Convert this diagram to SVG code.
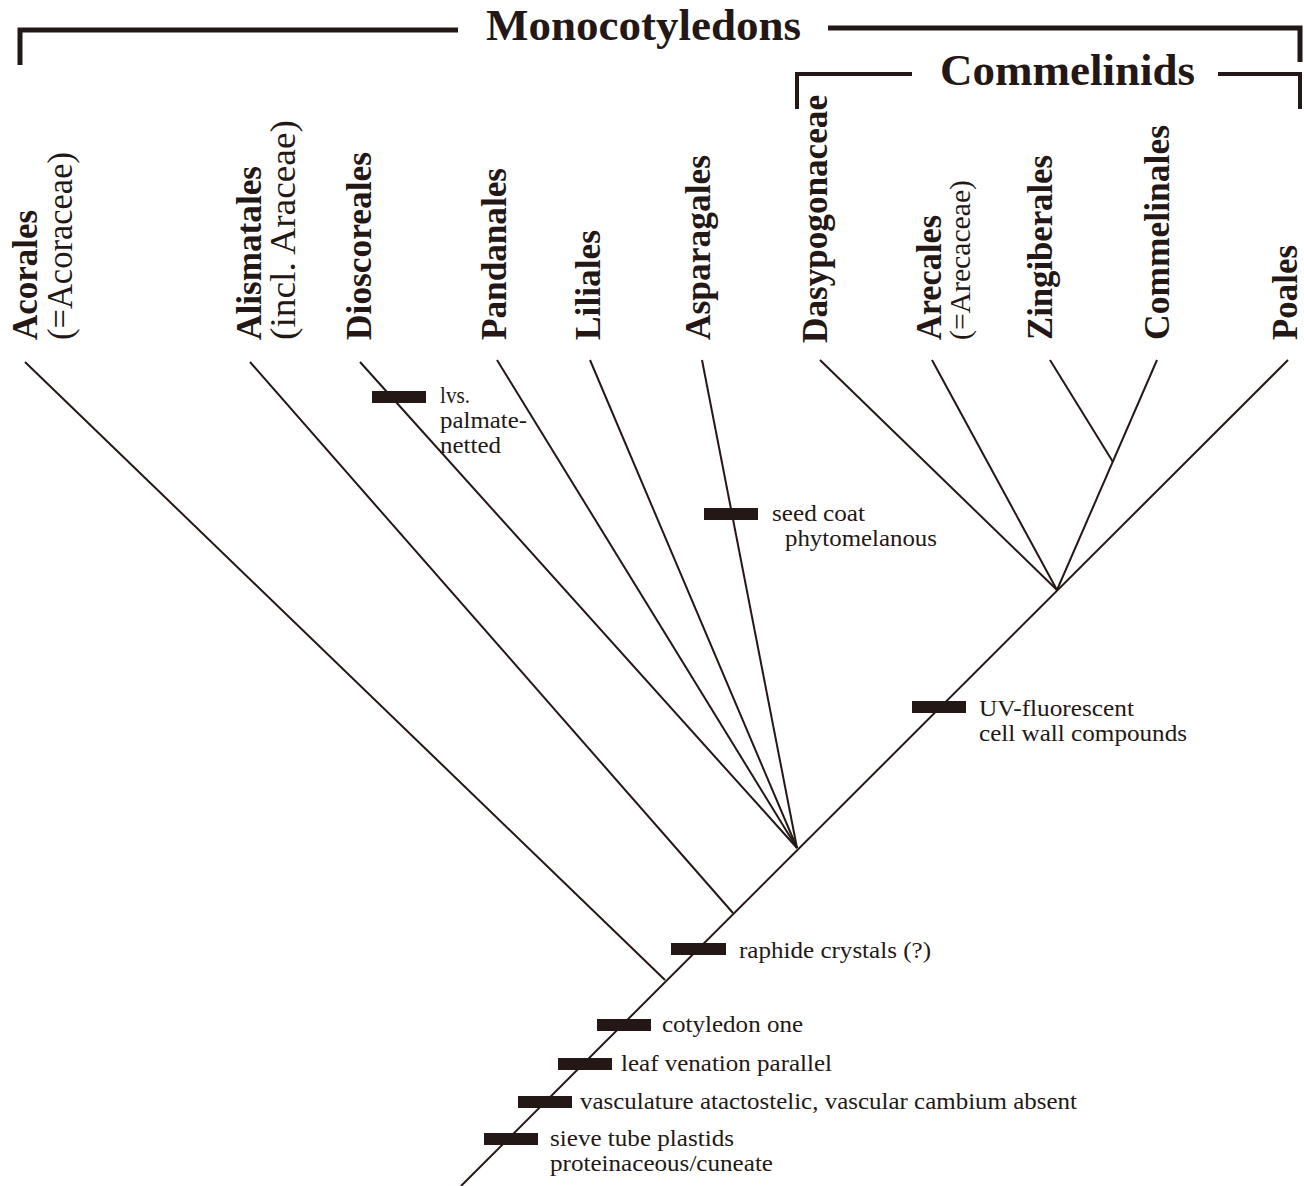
<svg xmlns="http://www.w3.org/2000/svg" width="1304" height="1186" viewBox="0 0 1304 1186">
<style>
.bk{fill:#231815;font-family:"Liberation Serif","Times New Roman",serif}
.b{font-weight:bold}
.title{font-size:45px;font-weight:bold}
.tx{font-size:35px}
.ch{font-size:23px}
.br{fill:none;stroke:#231815;stroke-linecap:butt;stroke-linejoin:miter}
.edge{fill:none;stroke:#231815;stroke-width:2}
.bar{fill:#231815}
</style>
<rect width="1304" height="1186" fill="#ffffff"/>
<g id="monocots-bracket">
<path class="br" stroke-width="5" d="M20,65 V30 H458"/>
<path class="br" stroke-width="5" d="M828,28 H1300 V62"/>
<text class="bk title" x="486" y="40">Monocotyledons</text>
</g>
<g id="commelinids-bracket">
<path class="br" stroke-width="4" d="M797,109 V74 H912"/>
<path class="br" stroke-width="4" d="M1218,74 H1300 V109"/>
<text class="bk title" x="940" y="85">Commelinids</text>
</g>
<g id="connectors">
<path class="edge" d="M461,1186 L1288,360"/>
<path class="edge" d="M25,362 L665,980"/>
<path class="edge" d="M250,362 L733,913"/>
<path class="edge" d="M360,362 L797,848"/>
<path class="edge" d="M497,360 L797,848"/>
<path class="edge" d="M590,360 L797,848"/>
<path class="edge" d="M702,360 L797,848"/>
<path class="edge" d="M820,360 L1057,590"/>
<path class="edge" d="M932,360 L1057,590"/>
<path class="edge" d="M1157,360 L1057,590"/>
<path class="edge" d="M1050,360 L1113,462"/>
</g>
<g id="taxon-acorales">
<text class="bk tx b" transform="translate(37,340) rotate(-90)" textLength="130" lengthAdjust="spacingAndGlyphs">Acorales</text>
<text class="bk tx" transform="translate(72,340) rotate(-90)" textLength="188" lengthAdjust="spacingAndGlyphs">(=Acoraceae)</text>
</g>
<g id="taxon-alismatales">
<text class="bk tx b" transform="translate(261,340) rotate(-90)" textLength="174" lengthAdjust="spacingAndGlyphs">Alismatales</text>
<text class="bk tx" transform="translate(295,340) rotate(-90)" textLength="220" lengthAdjust="spacingAndGlyphs">(incl. Araceae)</text>
</g>
<g id="taxon-dioscoreales">
<text class="bk tx b" transform="translate(371,340) rotate(-90)" textLength="188" lengthAdjust="spacingAndGlyphs">Dioscoreales</text>
</g>
<g id="taxon-pandanales">
<text class="bk tx b" transform="translate(506,340) rotate(-90)" textLength="172" lengthAdjust="spacingAndGlyphs">Pandanales</text>
</g>
<g id="taxon-liliales">
<text class="bk tx b" transform="translate(600,340) rotate(-90)" textLength="110" lengthAdjust="spacingAndGlyphs">Liliales</text>
</g>
<g id="taxon-asparagales">
<text class="bk tx b" transform="translate(710,340) rotate(-90)" textLength="185" lengthAdjust="spacingAndGlyphs">Asparagales</text>
</g>
<g id="taxon-dasypogonaceae">
<text class="bk tx b" transform="translate(827,343) rotate(-90)" textLength="248" lengthAdjust="spacingAndGlyphs">Dasypogonaceae</text>
</g>
<g id="taxon-arecales">
<text class="bk tx b" transform="translate(941,340) rotate(-90)" textLength="125" lengthAdjust="spacingAndGlyphs">Arecales</text>
<text class="bk" font-size="29" transform="translate(970,340) rotate(-90)" textLength="160" lengthAdjust="spacingAndGlyphs">(=Arecaceae)</text>
</g>
<g id="taxon-zingiberales">
<text class="bk tx b" transform="translate(1052,340) rotate(-90)" textLength="185" lengthAdjust="spacingAndGlyphs">Zingiberales</text>
</g>
<g id="taxon-commelinales">
<text class="bk tx b" transform="translate(1169,340) rotate(-90)" textLength="215" lengthAdjust="spacingAndGlyphs">Commelinales</text>
</g>
<g id="taxon-poales">
<text class="bk tx b" transform="translate(1297,340) rotate(-90)" textLength="95" lengthAdjust="spacingAndGlyphs">Poales</text>
</g>
<g id="char-lvs">
<rect class="bar" x="372" y="391" width="54" height="12"/>
<text class="bk ch" x="440" y="403" textLength="30" lengthAdjust="spacingAndGlyphs">lvs.</text>
<text class="bk ch" x="440" y="428" textLength="87" lengthAdjust="spacingAndGlyphs">palmate-</text>
<text class="bk ch" x="440" y="453" textLength="61" lengthAdjust="spacingAndGlyphs">netted</text>
</g>
<g id="char-seedcoat">
<rect class="bar" x="704" y="508" width="54" height="12"/>
<text class="bk ch" x="772" y="521" textLength="93" lengthAdjust="spacingAndGlyphs">seed coat</text>
<text class="bk ch" x="785" y="546" textLength="152" lengthAdjust="spacingAndGlyphs">phytomelanous</text>
</g>
<g id="char-uv">
<rect class="bar" x="912" y="701" width="54" height="12"/>
<text class="bk ch" x="979" y="716" textLength="155" lengthAdjust="spacingAndGlyphs">UV-fluorescent</text>
<text class="bk ch" x="979" y="741" textLength="208" lengthAdjust="spacingAndGlyphs">cell wall compounds</text>
</g>
<g id="char-raphide">
<rect class="bar" x="671" y="943" width="55" height="12"/>
<text class="bk ch" x="739" y="958" textLength="192" lengthAdjust="spacingAndGlyphs">raphide crystals (?)</text>
</g>
<g id="char-cotyledon">
<rect class="bar" x="597" y="1019" width="54" height="12"/>
<text class="bk ch" x="662" y="1032" textLength="141" lengthAdjust="spacingAndGlyphs">cotyledon one</text>
</g>
<g id="char-venation">
<rect class="bar" x="558" y="1058" width="54" height="12"/>
<text class="bk ch" x="621" y="1071" textLength="211" lengthAdjust="spacingAndGlyphs">leaf venation parallel</text>
</g>
<g id="char-vasculature">
<rect class="bar" x="518" y="1096" width="54" height="12"/>
<text class="bk ch" x="580" y="1109" textLength="497" lengthAdjust="spacingAndGlyphs">vasculature atactostelic, vascular cambium absent</text>
</g>
<g id="char-sieve">
<rect class="bar" x="484" y="1133" width="54" height="12"/>
<text class="bk ch" x="550" y="1146" textLength="184" lengthAdjust="spacingAndGlyphs">sieve tube plastids</text>
<text class="bk ch" x="550" y="1171" textLength="223" lengthAdjust="spacingAndGlyphs">proteinaceous/cuneate</text>
</g>
</svg>
